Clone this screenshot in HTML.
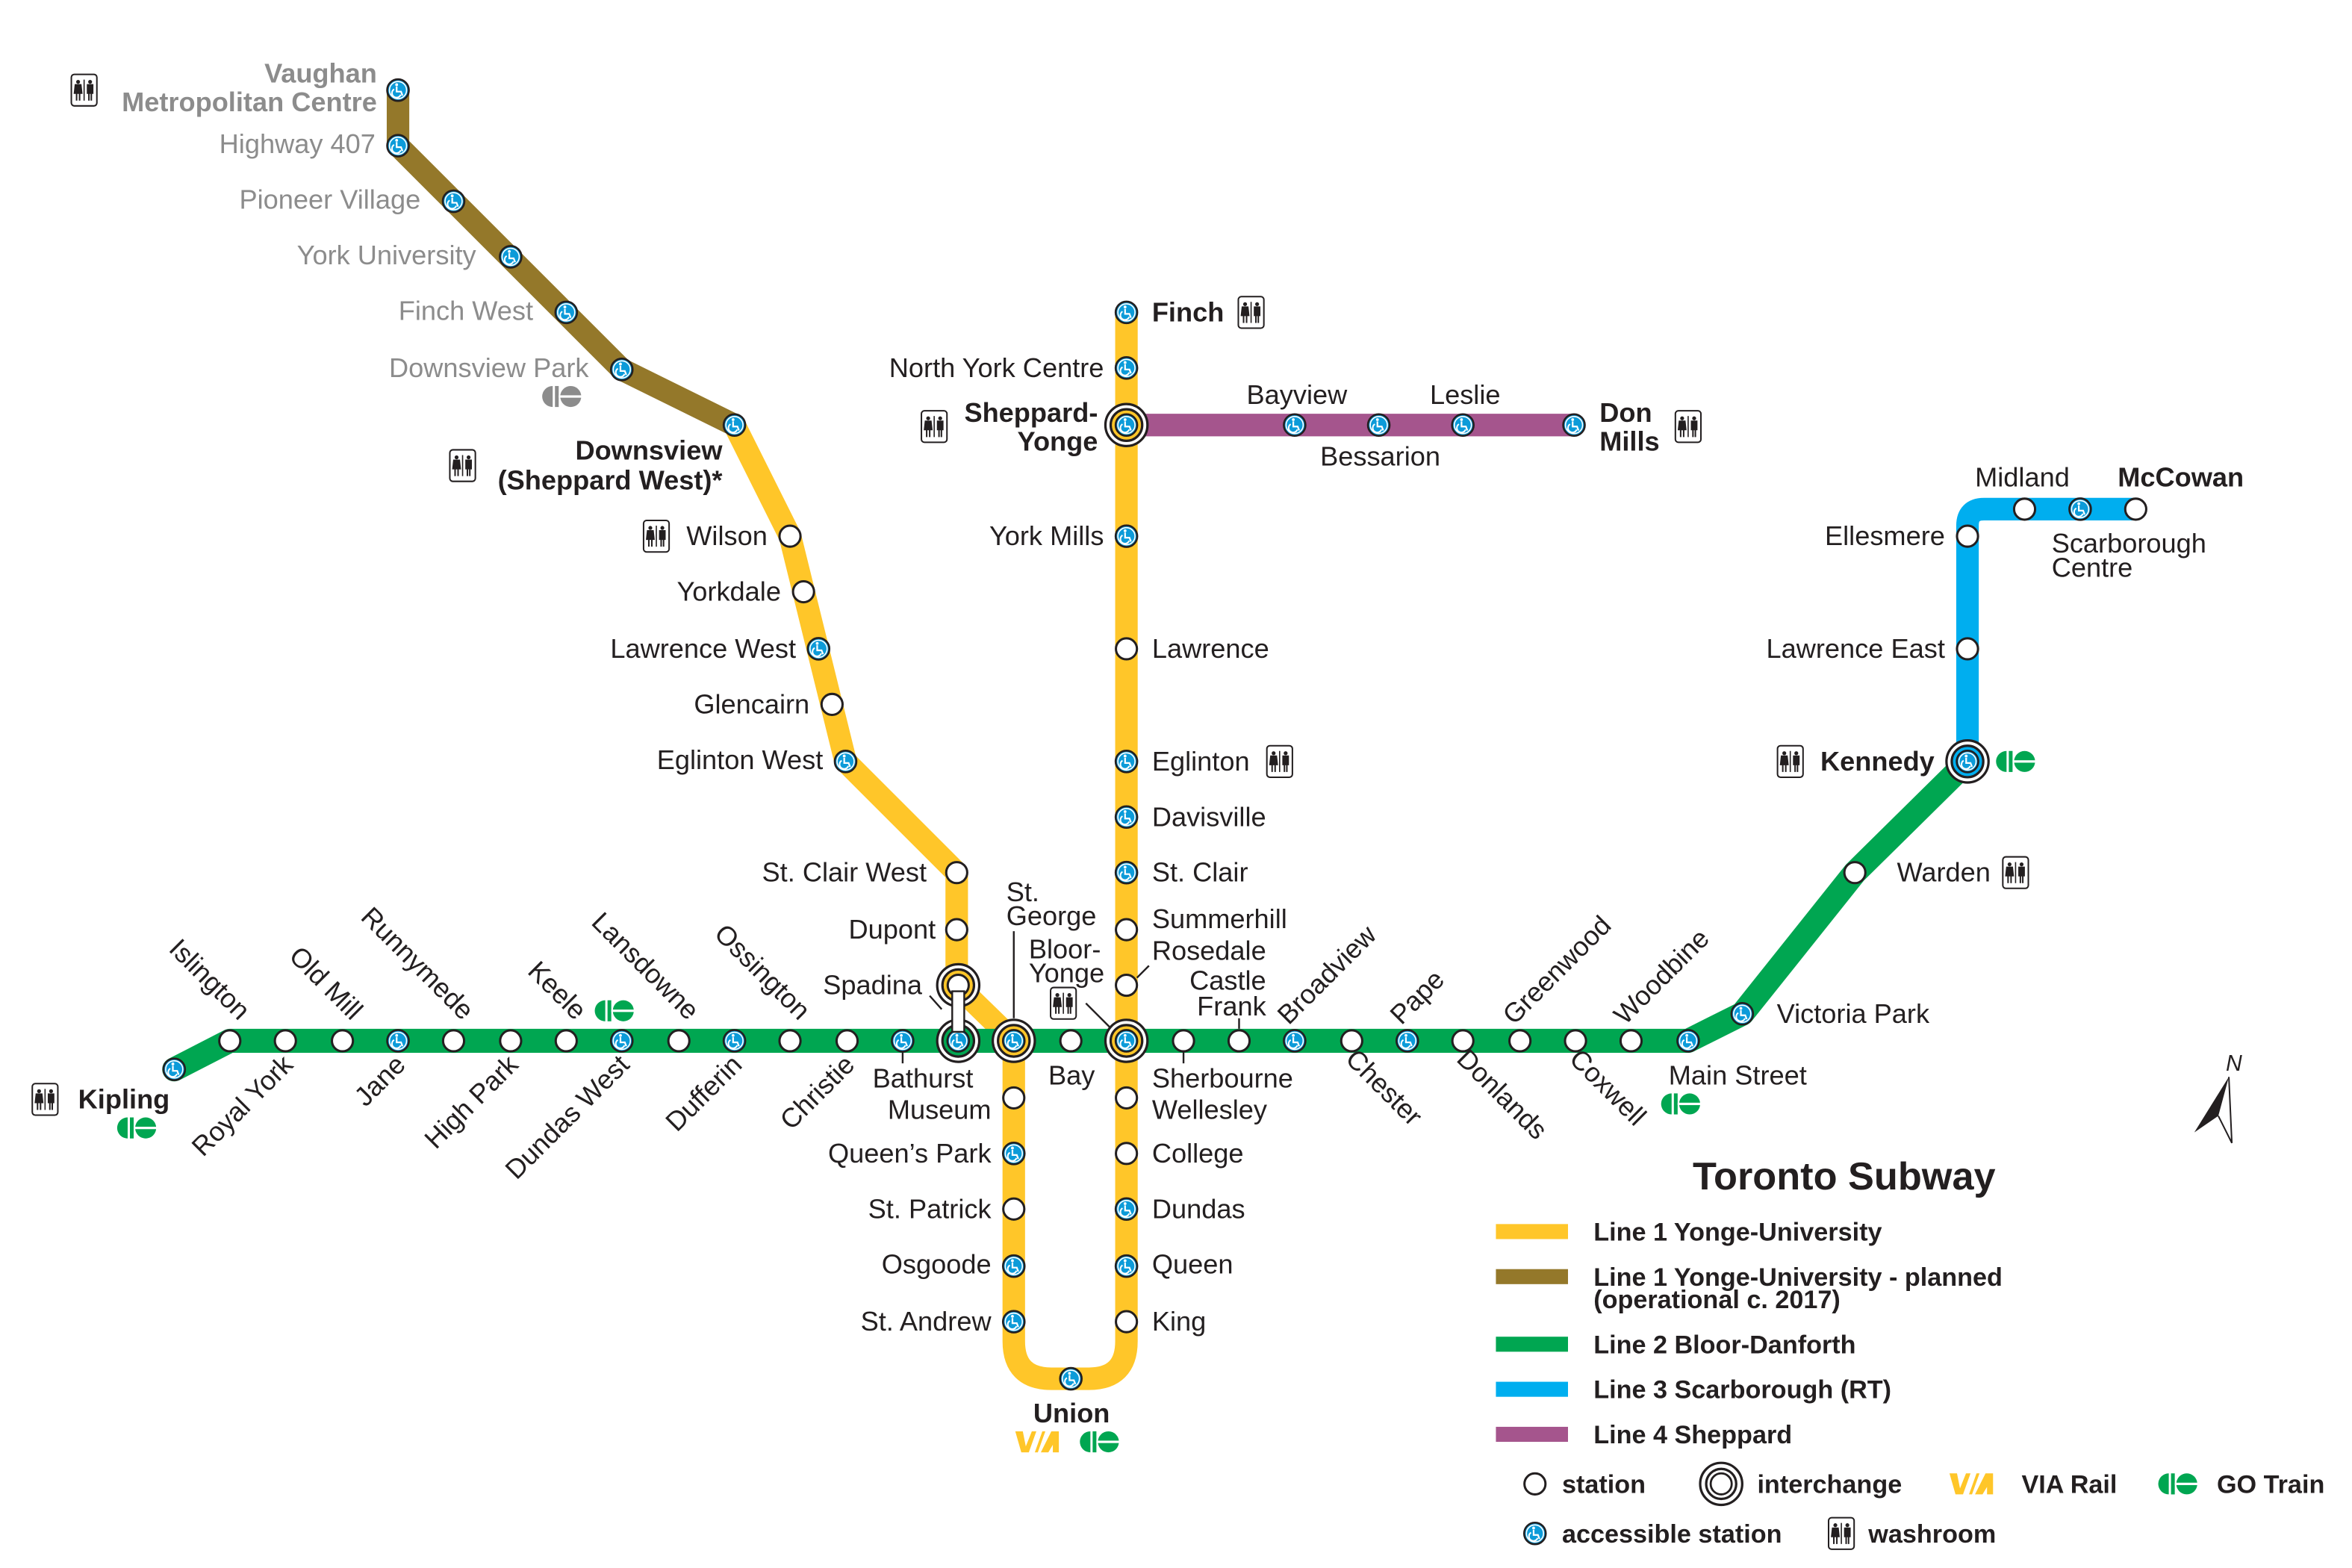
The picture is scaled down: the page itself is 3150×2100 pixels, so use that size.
<!DOCTYPE html>
<html><head><meta charset="utf-8"><style>
html,body{margin:0;padding:0;background:#fff;}
svg{display:block;}
text{font-family:"Liberation Sans",Arial,sans-serif;font-size:18px;fill:#231f20;}
.g{fill:#8c8c8c;}
.b{font-weight:bold;}
.lg{font-weight:bold;font-size:17px;}
</style></head><body>
<svg width="3150" height="2100" viewBox="0 0 1566 1044" xmlns="http://www.w3.org/2000/svg">
<defs>
<g id="s"><circle r="7" fill="#fff" stroke="#231f20" stroke-width="1.5"/></g>
<g id="a"><circle r="7.2" fill="#0c9bd9" stroke="#231f20" stroke-width="1.3"/><circle r="5.7" fill="none" stroke="#fff" stroke-width="0.8"/>
<circle cx="-0.9" cy="-3.6" r="0.95" fill="#fff"/><path d="M-0.9,-2.4 L-0.9,1 L2,1 L3,3.6" fill="none" stroke="#fff" stroke-width="1.1"/>
<path d="M-2.6,-0.6 A3,3 0 1 0 1.8,3" fill="none" stroke="#fff" stroke-width="1"/></g>
<g id="i"><circle r="14" fill="#fff" stroke="#231f20" stroke-width="1.6"/><circle r="10.5" fill="#ffc629" stroke="#231f20" stroke-width="1.6"/></g>
<g id="w"><rect x="-8.5" y="-10.5" width="17" height="21" rx="2" fill="#fff" stroke="#231f20" stroke-width="1"/>
<line x1="0" y1="-7" x2="0" y2="7" stroke="#231f20" stroke-width="0.8"/>
<circle cx="-4" cy="-5.5" r="1.3" fill="#231f20"/><path d="M-5.8,-3.5 L-2.2,-3.5 L-1.6,2 L-6.4,2 Z M-5,2 L-5,7 M-3,2 L-3,7" fill="#231f20" stroke="#231f20" stroke-width="1"/>
<circle cx="4" cy="-5.5" r="1.3" fill="#231f20"/><path d="M2.3,-3.5 L5.7,-3.5 L5.7,2 L2.3,2 Z M3.2,2 L3.2,7 M4.8,2 L4.8,7" fill="#231f20" stroke="#231f20" stroke-width="1"/></g>
<g id="go"><path d="M0,-7 A7,7 0 0 0 0,7 Z" fill="currentColor"/><rect x="1.5" y="-7" width="2.5" height="14" fill="currentColor"/>
<path d="M5,0 A7,7 0 0 1 19,0 A7,7 0 0 1 5,0 Z" fill="currentColor"/><rect x="4" y="-0.8" width="16" height="1.6" fill="#fff"/></g>
<g id="via"><path d="M0,-7 L5,-7 L7,3 L11,-7 L14,-7 L9,7 L4,7 Z M13,7 L18,-7 L20,-7 L15,7 Z M17,7 L24,-7 L29,-7 L29,7 L25,7 L25,2 L22,7 Z" fill="#ffc629"/></g>
</defs>

<g fill="none" stroke-linejoin="round" stroke-linecap="round">
<path d="M265,60 L265,97 L414,246 L489,283" stroke="#94782a" stroke-width="15"/>
<path d="M489,283 L526,357 L563,507 L637,581 L637,656 L675,693 L675,893 Q675,918 700,918 L725,918 Q750,918 750,893 L750,208" stroke="#ffc629" stroke-width="15"/>
<path d="M116,712 L153,693 L1124,693 L1160,675 L1235,581 L1310,507" stroke="#00a651" stroke-width="16"/>
<path d="M1310,507 L1310,350 Q1310,339 1321,339 L1422,339" stroke="#00aeef" stroke-width="15"/>
<path d="M750,283 L1048,283" stroke="#a5558d" stroke-width="15"/>
</g>

<g stroke="#231f20" stroke-width="1.2">
<line x1="675" y1="620" x2="675" y2="678"/>
<line x1="723" y1="668" x2="740" y2="685"/>
<line x1="757" y1="651" x2="765" y2="643"/>
<line x1="619" y1="663" x2="627" y2="672"/>
<line x1="601" y1="700" x2="601" y2="708"/>
<line x1="788" y1="700" x2="788" y2="708"/>
<line x1="825" y1="678" x2="825" y2="685"/>
</g>

<use href="#a" x="265" y="60"/><use href="#a" x="265" y="97"/><use href="#a" x="302" y="134"/><use href="#a" x="340" y="171"/><use href="#a" x="377" y="208"/><use href="#a" x="414" y="246"/><use href="#a" x="489" y="283"/>
<use href="#s" x="526" y="357"/><use href="#s" x="535" y="394"/><use href="#a" x="545" y="432"/><use href="#s" x="554" y="469"/><use href="#a" x="563" y="507"/><use href="#s" x="637" y="581"/><use href="#s" x="637" y="619"/>
<use href="#s" x="675" y="731"/><use href="#a" x="675" y="768"/><use href="#s" x="675" y="805"/><use href="#a" x="675" y="843"/><use href="#a" x="675" y="880"/><use href="#a" x="713" y="918"/>
<use href="#s" x="750" y="731"/><use href="#s" x="750" y="768"/><use href="#a" x="750" y="805"/><use href="#a" x="750" y="843"/><use href="#s" x="750" y="880"/>
<use href="#a" x="750" y="208"/><use href="#a" x="750" y="245"/><use href="#a" x="750" y="357"/><use href="#s" x="750" y="432"/><use href="#a" x="750" y="507"/><use href="#a" x="750" y="544"/><use href="#a" x="750" y="581"/><use href="#s" x="750" y="619"/><use href="#s" x="750" y="656"/>
<use href="#a" x="862" y="283"/><use href="#a" x="918" y="283"/><use href="#a" x="974" y="283"/><use href="#a" x="1048" y="283"/>
<use href="#s" x="1310" y="357"/><use href="#s" x="1310" y="432"/><use href="#s" x="1348" y="339"/><use href="#a" x="1385" y="339"/><use href="#s" x="1422" y="339"/>
<use href="#a" x="116" y="712"/><use href="#s" x="153" y="693"/><use href="#s" x="190" y="693"/><use href="#s" x="228" y="693"/><use href="#a" x="265" y="693"/><use href="#s" x="302" y="693"/><use href="#s" x="340" y="693"/><use href="#s" x="377" y="693"/><use href="#a" x="414" y="693"/><use href="#s" x="452" y="693"/><use href="#a" x="489" y="693"/><use href="#s" x="526" y="693"/><use href="#s" x="564" y="693"/><use href="#a" x="601" y="693"/>
<use href="#s" x="713" y="693"/><use href="#s" x="788" y="693"/><use href="#s" x="825" y="693"/><use href="#a" x="862" y="693"/><use href="#s" x="900" y="693"/><use href="#a" x="937" y="693"/><use href="#s" x="974" y="693"/><use href="#s" x="1012" y="693"/><use href="#s" x="1049" y="693"/><use href="#s" x="1086" y="693"/><use href="#a" x="1124" y="693"/><use href="#a" x="1160" y="675"/><use href="#s" x="1235" y="581"/>

<use href="#i" x="750" y="283"/><use href="#a" x="750" y="283"/>
<use href="#i" x="675" y="693"/><use href="#a" x="675" y="693"/>
<use href="#i" x="750" y="693"/><use href="#a" x="750" y="693"/>
<g><circle cx="1310" cy="507" r="14" fill="#fff" stroke="#231f20" stroke-width="1.6"/><circle cx="1310" cy="507" r="10.5" fill="#00aeef" stroke="#231f20" stroke-width="1.6"/></g><use href="#a" x="1310" y="507"/>
<circle cx="638" cy="656" r="14" fill="#fff" stroke="#231f20" stroke-width="1.6"/>
<circle cx="638" cy="693" r="14" fill="#fff" stroke="#231f20" stroke-width="1.6"/>
<circle cx="638" cy="656" r="10.5" fill="#ffc629" stroke="#231f20" stroke-width="1.6"/>
<circle cx="638" cy="693" r="10.5" fill="#00a651" stroke="#231f20" stroke-width="1.6"/>
<use href="#s" x="638" y="656"/><use href="#a" x="638" y="693"/>
<rect x="634" y="660" width="8" height="27" fill="#fff" stroke="#231f20" stroke-width="1.2"/>

<g class="g" text-anchor="end">
<text x="251" y="55" class="b g">Vaughan</text>
<text x="251" y="74" class="b g">Metropolitan Centre</text>
<text x="250" y="102" class="g">Highway 407</text>
<text x="280" y="139" class="g">Pioneer Village</text>
<text x="317" y="176" class="g">York University</text>
<text x="355" y="213" class="g">Finch West</text>
<text x="392" y="251" class="g">Downsview Park</text>
</g>
<use href="#go" x="368" y="264" style="color:#8c8c8c"/>

<g text-anchor="end">
<text x="481" y="306" class="b">Downsview</text>
<text x="481" y="326" class="b">(Sheppard West)*</text>
<text x="511" y="363">Wilson</text>
<text x="520" y="400">Yorkdale</text>
<text x="530" y="438">Lawrence West</text>
<text x="539" y="475">Glencairn</text>
<text x="548" y="512">Eglinton West</text>
<text x="617" y="587">St. Clair West</text>
<text x="623" y="625">Dupont</text>
<text x="614" y="662">Spadina</text>
<text x="660" y="745">Museum</text>
<text x="660" y="774">Queen’s Park</text>
<text x="660" y="811">St. Patrick</text>
<text x="660" y="848">Osgoode</text>
<text x="660" y="886">St. Andrew</text>
<text x="735" y="251">North York Centre</text>
<text x="731" y="281" class="b">Sheppard-</text>
<text x="731" y="300" class="b">Yonge</text>
<text x="735" y="363">York Mills</text>
<text x="843" y="659">Castle</text>
<text x="843" y="676">Frank</text>
<text x="1295" y="363">Ellesmere</text>
<text x="1295" y="438">Lawrence East</text>
<text x="1288" y="513" class="b">Kennedy</text>
<text x="113" y="738" class="b">Kipling</text>
</g>
<g>
<text x="767" y="214" class="b">Finch</text>
<text x="767" y="438">Lawrence</text>
<text x="767" y="513">Eglinton</text>
<text x="767" y="550">Davisville</text>
<text x="767" y="587">St. Clair</text>
<text x="767" y="618">Summerhill</text>
<text x="767" y="639">Rosedale</text>
<text x="767" y="724">Sherbourne</text>
<text x="767" y="745">Wellesley</text>
<text x="767" y="774">College</text>
<text x="767" y="811">Dundas</text>
<text x="767" y="848">Queen</text>
<text x="767" y="886">King</text>
<text x="670" y="600">St.</text>
<text x="670" y="616">George</text>
<text x="685" y="638">Bloor-</text>
<text x="685" y="654">Yonge</text>
<text x="698" y="722">Bay</text>
<text x="581" y="724">Bathurst</text>
<text x="688" y="947" class="b">Union</text>
<text x="830" y="269">Bayview</text>
<text x="952" y="269">Leslie</text>
<text x="879" y="310">Bessarion</text>
<text x="1065" y="281" class="b">Don</text>
<text x="1065" y="300" class="b">Mills</text>
<text x="1315" y="324">Midland</text>
<text x="1410" y="324" class="b">McCowan</text>
<text x="1366" y="368">Scarborough</text>
<text x="1366" y="384">Centre</text>
<text x="1263" y="587">Warden</text>
<text x="1183" y="681">Victoria Park</text>
<text x="1111" y="722">Main Street</text>
</g>

<g text-anchor="end">
<text transform="translate(159,680) rotate(45)">Islington</text>
<text transform="translate(234,680) rotate(45)">Old Mill</text>
<text transform="translate(308,680) rotate(45)">Runnymede</text>
<text transform="translate(383,680) rotate(45)">Keele</text>
<text transform="translate(458,680) rotate(45)">Lansdowne</text>
<text transform="translate(532,680) rotate(45)">Ossington</text>
<text transform="translate(196,710) rotate(-45)">Royal York</text>
<text transform="translate(271,710) rotate(-45)">Jane</text>
<text transform="translate(346,710) rotate(-45)">High Park</text>
<text transform="translate(420,710) rotate(-45)">Dundas West</text>
<text transform="translate(495,710) rotate(-45)">Dufferin</text>
<text transform="translate(570,710) rotate(-45)">Christie</text>
</g>
<g>
<text transform="translate(858,683) rotate(-45)">Broadview</text>
<text transform="translate(933,683) rotate(-45)">Pape</text>
<text transform="translate(1008,683) rotate(-45)">Greenwood</text>
<text transform="translate(1082,683) rotate(-45)">Woodbine</text>
<text transform="translate(895,706) rotate(45)">Chester</text>
<text transform="translate(969,706) rotate(45)">Donlands</text>
<text transform="translate(1044,706) rotate(45)">Coxwell</text>
</g>

<use href="#w" x="56" y="60"/><use href="#w" x="308" y="310"/><use href="#w" x="437" y="357"/><use href="#w" x="833" y="208"/><use href="#w" x="622" y="284"/><use href="#w" x="1124" y="284"/><use href="#w" x="852" y="507"/><use href="#w" x="708" y="668"/><use href="#w" x="1192" y="507"/><use href="#w" x="1342" y="581"/><use href="#w" x="30" y="732"/>
<g style="color:#00a651">
<use href="#go" x="403" y="673"/><use href="#go" x="85" y="751"/><use href="#go" x="1336" y="507"/><use href="#go" x="1113" y="735"/><use href="#go" x="726" y="960"/>
</g>
<use href="#via" x="676" y="960"/>

<path d="M1484,717 L1461,754 L1477,743 Z" fill="#231f20"/>
<path d="M1484,717 L1486,761 L1477,743" fill="none" stroke="#231f20" stroke-width="1"/>
<text x="1482" y="713" style="font-style:italic;font-size:15px">N</text>

<text x="1127" y="792" class="b" style="font-size:26px">Toronto Subway</text>
<rect x="996" y="815" width="48" height="10" fill="#ffc629"/>
<rect x="996" y="845" width="48" height="10" fill="#94782a"/>
<rect x="996" y="890" width="48" height="10" fill="#00a651"/>
<rect x="996" y="920" width="48" height="10" fill="#00aeef"/>
<rect x="996" y="950" width="48" height="10" fill="#a5558d"/>
<text x="1061" y="826" class="lg">Line 1 Yonge-University</text>
<text x="1061" y="856" class="lg">Line 1 Yonge-University - planned</text>
<text x="1061" y="871" class="lg">(operational c. 2017)</text>
<text x="1061" y="901" class="lg">Line 2 Bloor-Danforth</text>
<text x="1061" y="931" class="lg">Line 3 Scarborough (RT)</text>
<text x="1061" y="961" class="lg">Line 4 Sheppard</text>
<use href="#s" x="1022" y="988"/>
<text x="1040" y="994" class="lg">station</text>
<circle cx="1146" cy="988" r="14" fill="#fff" stroke="#231f20" stroke-width="1.6"/>
<circle cx="1146" cy="988" r="10" fill="#fff" stroke="#231f20" stroke-width="1.6"/>
<circle cx="1146" cy="988" r="7" fill="#fff" stroke="#231f20" stroke-width="1.4"/>
<text x="1170" y="994" class="lg">interchange</text>
<use href="#via" x="1298" y="988"/>
<text x="1346" y="994" class="lg">VIA Rail</text>
<use href="#go" x="1444" y="988" style="color:#00a651"/>
<text x="1476" y="994" class="lg">GO Train</text>
<use href="#a" x="1022" y="1021"/>
<text x="1040" y="1027" class="lg">accessible station</text>
<use href="#w" x="1226" y="1021"/>
<text x="1244" y="1027" class="lg">washroom</text>
</svg>
</body></html>
